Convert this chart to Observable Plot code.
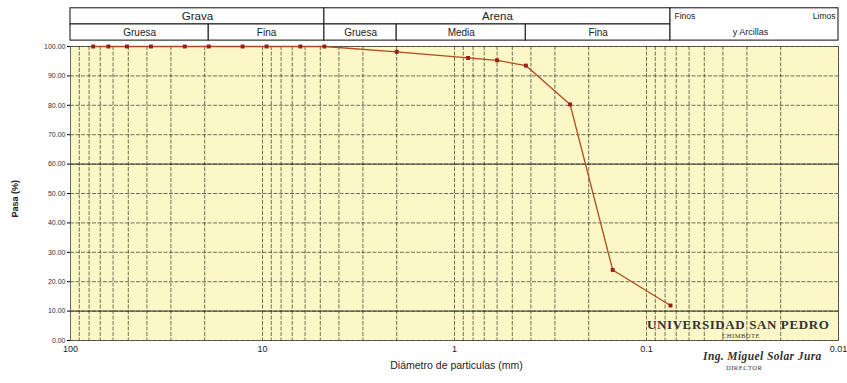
<!DOCTYPE html>
<html><head><meta charset="utf-8">
<script src="https://cdn.jsdelivr.net/npm/d3@7"></script>
<script src="https://cdn.jsdelivr.net/npm/@observablehq/plot@0.6"></script>
<style>
body{margin:0;background:#fff;font-family:"Liberation Sans",Arial,sans-serif;}
#wrap{position:relative;width:847px;height:383px;}
.stamp{position:absolute;font-family:"Liberation Serif","DejaVu Serif",serif;color:#333;white-space:nowrap;}
</style></head>
<body><div id="wrap"></div>
<script>
// Diámetro de tamiz (mm) y % que pasa
const diametros = [76.2, 63.5, 50.8, 38.1, 25.4, 19.05, 12.7, 9.525, 6.35, 4.76, 2.0, 0.85, 0.6, 0.425, 0.25, 0.15, 0.075];
const pasa      = [100, 100, 100, 100, 100, 100, 100, 100, 100, 100, 98.2, 96.1, 95.3, 93.5, 80.3, 24.0, 11.9];
const xTicks = [100, 10, 1, 0.1, 0.01];
const yTicks = [0,10,20,30,40,50,60,70,80,90,100];
// Encabezado de clasificación
const fila1 = [{a:100, b:4.76, t:"Grava"}, {a:4.76, b:0.075, t:"Arena"}];
const fila2 = [{a:100, b:19.05, t:"Gruesa"}, {a:19.05, b:4.76, t:"Fina"}, {a:4.76, b:2.0, t:"Gruesa"}, {a:2.0, b:0.425, t:"Media"}, {a:0.425, b:0.075, t:"Fina"}];
const finos = {a:0.075, b:0.01};

const data = diametros.map((d,i)=>({d, p:pasa[i]}));
const gridX = [];
for (const dec of [10,1,0.1,0.01]) for (let k=1;k<=9;k++){ const v=+(dec*k).toPrecision(3); if(v<=100&&v>=0.01) gridX.push(v); }
const yTop=113, yMid=107.5, yBot=102;

const chart = Plot.plot({
  width:847, height:383,
  marginLeft:70, marginRight:9, marginTop:46, marginBottom:43,
  style:{fontFamily:"Liberation Sans, Arial, sans-serif", background:"transparent", overflow:"visible"},
  x:{type:"log", domain:[100,0.01], ticks:xTicks, tickFormat:d=>String(d), tickSize:0, tickPadding:6, label:null},
  y:{domain:[0,100], ticks:yTicks, tickFormat:d=>d.toFixed(2), tickSize:3, tickPadding:2, label:null},
  marks:[
    Plot.frame({fill:"#fbf7c6", stroke:null}),
    Plot.ruleX(gridX, {stroke:"#222", strokeWidth:0.8, strokeOpacity:0.8, strokeDasharray:"4,1.5"}),
    Plot.ruleY(yTicks, {stroke:"#222", strokeWidth:0.8, strokeOpacity:0.8, strokeDasharray:"4,1.5"}),
    Plot.ruleY([60,10], {stroke:"#222", strokeWidth:0.9}),
    Plot.frame({stroke:"#444", strokeWidth:0.8}),
    Plot.axisX({ticks:xTicks, tickFormat:d=>String(d), tickSize:0, tickPadding:5, fontSize:9, fill:"#222", label:null}),
    Plot.axisY({ticks:yTicks, tickFormat:d=>d.toFixed(2), tickSize:3, tickPadding:2, fontSize:7, fill:"#333", label:null}),
    Plot.line(data, {x:"d", y:"p", stroke:"#b24a20", strokeWidth:1.3}),
    Plot.dot(data, {x:"d", y:"p", symbol:"square", r:2.2, fill:"#9c1c16", stroke:null}),
    // header table
    Plot.rect(fila1, {x1:"a", x2:"b", y1:yMid, y2:yTop, fill:"white", stroke:"#222", strokeWidth:1.1}),
    Plot.rect(fila2, {x1:"a", x2:"b", y1:yBot, y2:yMid, fill:"white", stroke:"#222", strokeWidth:1.1}),
    Plot.rect([finos], {x1:"a", x2:"b", y1:yBot, y2:yTop, fill:"white", stroke:"#222", strokeWidth:1.1}),
    Plot.text(fila1, {x:d=>Math.sqrt(d.a*d.b), y:(yTop+yMid)/2, text:"t", fontSize:11.5, fill:"#222"}),
    Plot.text(fila2, {x:d=>Math.sqrt(d.a*d.b), y:(yMid+yBot)/2, text:"t", fontSize:10, fill:"#222"}),
    Plot.text([finos], {x:"a", y:(yTop+yMid)/2, text:()=>"Finos", textAnchor:"start", dx:4, fontSize:8.5, fill:"#222"}),
    Plot.text([finos], {x:"b", y:(yTop+yMid)/2, text:()=>"Limos", textAnchor:"end", dx:-3, fontSize:8.5, fill:"#222"}),
    Plot.text([finos], {x:d=>Math.sqrt(d.a*d.b), y:(yMid+yBot)/2, text:()=>"y Arcillas", fontSize:9, fill:"#222", dx:-4}),
    // axis labels
    Plot.text(["Pasa (%)"], {frameAnchor:"left", dx:-55, dy:24, rotate:-90, fontSize:9, fontWeight:"bold", fill:"#222"}),
    Plot.text(["Diámetro de particulas (mm)"], {frameAnchor:"bottom", dy:28, dx:2, fontSize:10.5, fill:"#222"})
  ]
});
const wrap = document.getElementById("wrap");
wrap.appendChild(chart);
const stamps = [
  {t:"UNIVERSIDAD SAN PEDRO", x:647, y:317, s:13, w:"bold", st:"normal", ls:"0.6px"},
  {t:"CHIMBOTE", x:722, y:332, s:6.5, w:"normal", st:"normal", ls:"0.5px"},
  {t:"Ing. Miguel Solar Jura", x:703, y:350, s:11.5, w:"bold", st:"italic", ls:"0.4px"},
  {t:"DIRECTOR", x:726, y:364, s:6.5, w:"normal", st:"normal", ls:"0.5px"}
];
for (const s of stamps){
  const el=document.createElement("div"); el.className="stamp"; el.textContent=s.t;
  Object.assign(el.style,{left:s.x+"px", top:s.y+"px", fontSize:s.s+"px", fontWeight:s.w, fontStyle:s.st, letterSpacing:s.ls});
  wrap.appendChild(el);
}
</script></body></html>
